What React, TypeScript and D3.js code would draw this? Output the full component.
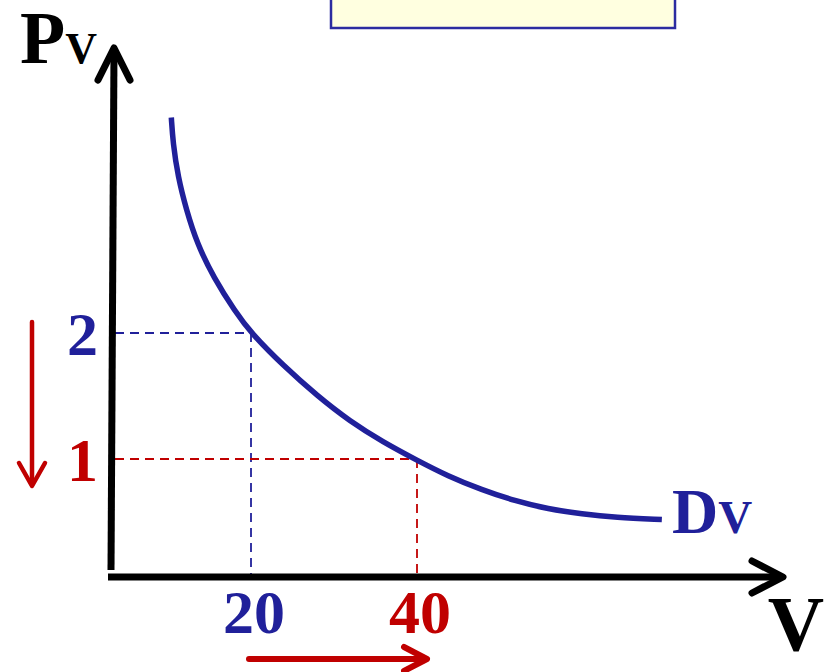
import React from 'react'
import * as d3 from 'd3'

// demand curve (quantity V, price Pv)
const curveQuantity = [
  10.4, 10.6, 11.2, 12.2, 13.5, 15.5, 18.1, 20, 23.9, 28, 31.9, 35.9, 40, 43.7, 47.8, 51.8, 55.8,
  59.9, 63.9, 69.5,
]
const curvePrice = [
  3.71, 3.51, 3.24, 2.98, 2.71, 2.44, 2.17, 2, 1.74, 1.5, 1.3, 1.135, 0.99, 0.865, 0.755, 0.667,
  0.603, 0.563, 0.536, 0.52,
]

// the two marked points on the curve
const markQuantity = [20, 40]
const markPrice = [2, 1]
const markColors = ['#20209a', '#c00000']

const width = 833
const height = 672

const axis = {
  left: 112,
  bottom: 577,
  top: 48,
  right: 783,
}

const serif = "'Liberation Serif', 'Times New Roman', serif"
const blue = '#20209a'
const red = '#c00000'

export default function App() {
  const x = d3.scaleLinear().domain([0, 80]).range([85, 749])
  const y = d3.scaleLinear().domain([0, 4]).range([585, 81])

  const points: [number, number][] = curveQuantity.map((q, i) => [q, curvePrice[i]])
  const line = d3
    .line<[number, number]>()
    .x((d) => x(d[0]))
    .y((d) => y(d[1]))
    .curve(d3.curveBasis)

  return (
    <svg
      width={width}
      height={height}
      style={{ position: 'absolute', left: 0, top: 0, background: '#fff' }}
    >
      {/* empty title box at top */}
      <rect x={331} y={-5} width={344} height={33} fill="#ffffe0" stroke="#2c2ca0" strokeWidth={2.5} />

      {/* guide lines */}
      {markQuantity.map((q, i) => (
        <g key={'guide-' + q} stroke={markColors[i]} strokeWidth={1.8} strokeDasharray="9 6" fill="none">
          <line x1={axis.left + 3} x2={x(q)} y1={y(markPrice[i])} y2={y(markPrice[i])} />
          <line x1={x(q)} x2={x(q)} y1={y(markPrice[i])} y2={axis.bottom} />
        </g>
      ))}

      {/* axes */}
      <g stroke="#000" strokeWidth={7} fill="none" strokeLinejoin="round">
        <line x1={axis.left - 1} y1={axis.bottom - 7} x2={axis.left + 2} y2={axis.top + 2} />
        <polyline
          points={`${axis.left - 14},80 ${axis.left + 2},${axis.top} ${axis.left + 18},80`}
          strokeLinecap="round"
        />
        <line x1={axis.left - 4} y1={axis.bottom} x2={axis.right - 2} y2={axis.bottom} />
        <polyline
          points={`${axis.right - 31},${axis.bottom - 16} ${axis.right},${axis.bottom} ${axis.right - 31},${axis.bottom + 16}`}
          strokeLinecap="round"
        />
      </g>

      {/* demand curve */}
      <path d={line(points) ?? ''} fill="none" stroke={blue} strokeWidth={5.5} />

      {/* price labels */}
      {markPrice.map((p, i) => (
        <text
          key={'p-' + p}
          x={98}
          y={y(p) + 22}
          textAnchor="end"
          fill={markColors[i]}
          fontFamily={serif}
          fontWeight="bold"
          fontSize={62}
        >
          {p}
        </text>
      ))}

      {/* quantity labels */}
      {markQuantity.map((q, i) => (
        <text
          key={'q-' + q}
          x={x(q) + 3}
          y={633}
          textAnchor="middle"
          fill={markColors[i]}
          fontFamily={serif}
          fontWeight="bold"
          fontSize={62}
        >
          {q}
        </text>
      ))}

      {/* axis titles */}
      <text x={20} y={63} fontFamily={serif} fontWeight="bold" fill="#000">
        <tspan fontSize={74}>P</tspan>
        <tspan fontSize={44}>V</tspan>
      </text>
      <text x={796} y={650} textAnchor="middle" fontFamily={serif} fontWeight="bold" fontSize={78} fill="#000">
        V
      </text>
      <text x={672} y={533} fontFamily={serif} fontWeight="bold" fill={blue}>
        <tspan fontSize={64}>D</tspan>
        <tspan fontSize={47}>V</tspan>
      </text>

      {/* direction arrows */}
      <g stroke={red} fill="none" strokeLinecap="round" strokeLinejoin="round">
        <line x1={32} y1={322} x2={32} y2={485} strokeWidth={4.5} />
        <polyline points="19,463 32,486 45,463" strokeWidth={4.5} />
        <line x1={249} y1={659} x2={425} y2={659} strokeWidth={6} />
        <polyline points="404,647 427,659 404,671" strokeWidth={6} />
      </g>
    </svg>
  )
}
